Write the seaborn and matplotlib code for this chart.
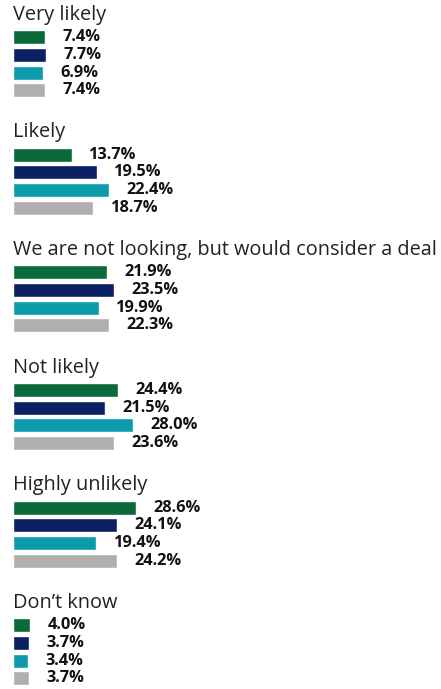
import matplotlib
matplotlib.use("Agg")
import matplotlib.pyplot as plt
import pandas as pd
import seaborn as sns

categories = [
    "Very likely",
    "Likely",
    "We are not looking, but would consider a deal",
    "Not likely",
    "Highly unlikely",
    "Don\u2019t know",
]
series = ["Series 1", "Series 2", "Series 3", "Series 4"]
values = [
    [7.4, 7.7, 6.9, 7.4],
    [13.7, 19.5, 22.4, 18.7],
    [21.9, 23.5, 19.9, 22.3],
    [24.4, 21.5, 28.0, 23.6],
    [28.6, 24.1, 19.4, 24.2],
    [4.0, 3.7, 3.4, 3.7],
]
colors = ["#0b6a39", "#0b1f63", "#0b9bab", "#b1aeae"]

sns.set_style("white")
plt.rcParams["font.family"] = ["Open Sans", "DejaVu Sans"]

W, H = 441, 689
fig = plt.figure(figsize=(W / 100, H / 100), dpi=100)

x0 = 13          # left edge of bars, px
px_per_pct = 4.3
top0 = 28.3      # top of first bar block, px
step = 117.6     # group spacing, px
block_h = 70.8   # height of 4-bar block, px

for i, (cat, vals) in enumerate(zip(categories, values)):
    top = top0 + i * step
    ax = fig.add_axes([x0 / W, 1 - (top + block_h) / H, (W - x0) / W, block_h / H])
    df = pd.DataFrame({"series": series, "value": vals})
    sns.barplot(data=df, x="value", y="series", hue="series", palette=colors,
                orient="h", width=0.79, saturation=1, legend=False, ax=ax)
    ax.set_xlim(0, (W - x0) / px_per_pct)
    ax.set_ylim(3.5, -0.5)
    ax.axis("off")
    for j, v in enumerate(vals):
        ax.annotate(f"{v:.1f}%", xy=(v, j), xytext=(12.5, 0), textcoords="offset points",
                    ha="left", va="center", fontsize=11.8, fontweight="bold", color="#111111")
    fig.text(x0 / W, 1 - (top - 13.5) / H, cat, ha="left", va="center",
             fontsize=14.3, color="#222222")

fig.savefig("out.png", dpi=100)
